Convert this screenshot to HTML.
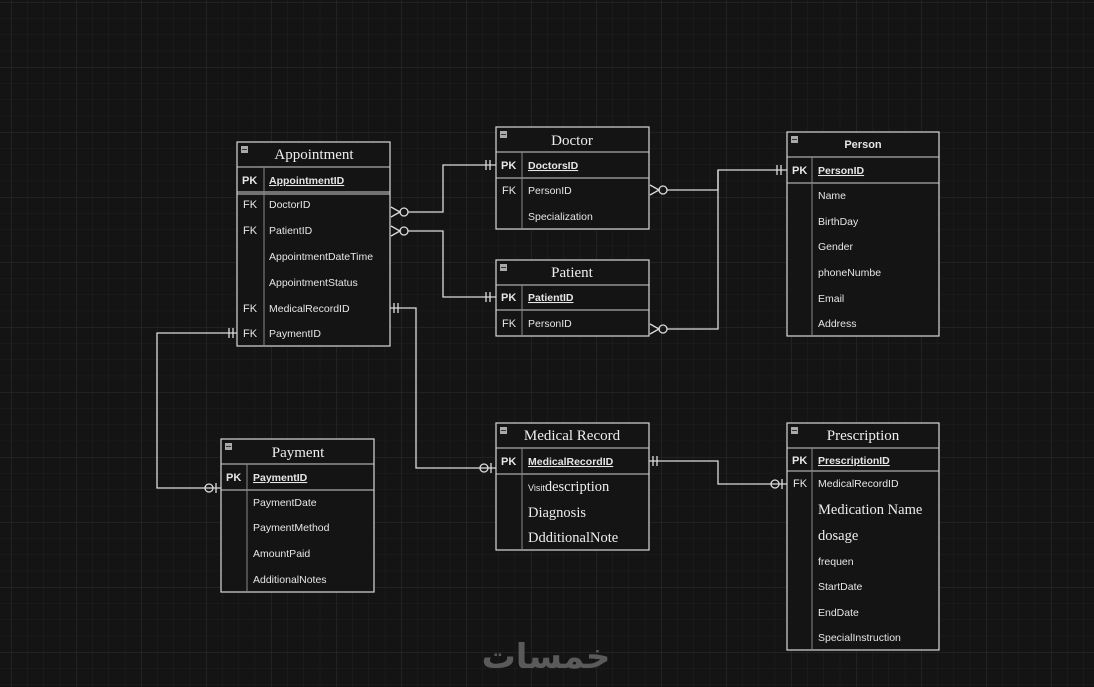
<!DOCTYPE html>
<html><head><meta charset="utf-8"><style>
html,body{margin:0;padding:0;background:#141414;}
svg{display:block;}
.s{font-family:"Liberation Sans",Arial,sans-serif;font-size:10.5px;fill:#e6e6e6;}
.k{font-family:"Liberation Sans",Arial,sans-serif;font-size:11px;fill:#e6e6e6;}
.b{font-weight:bold;}
.t{font-family:"Liberation Serif",serif;font-size:15px;fill:#eee;text-anchor:middle;}
.sr{font-family:"Liberation Serif",serif;font-size:15px;fill:#eee;}
.ln{stroke:#dcdcdc;stroke-width:1.3;fill:none;}
.bx{stroke:#d8d8d8;stroke-width:1.2;fill:#141414;}
.dv{stroke:#d0d0d0;stroke-width:1;}
.kd{stroke:#888;stroke-width:1;}
</style></head><body>
<svg width="1094" height="687" viewBox="0 0 1094 687" xmlns="http://www.w3.org/2000/svg">
<defs>
<pattern id="mi" width="16.25" height="16.25" patternUnits="userSpaceOnUse" x="11" y="2">
<path d="M0 0H16.25M0 0V16.25" stroke="#1f1f1f" stroke-width="1"/>
</pattern>
<pattern id="ma" width="65" height="65" patternUnits="userSpaceOnUse" x="11" y="2">
<path d="M0 0H65M0 0V65" stroke="#2e2e2e" stroke-width="1"/>
</pattern>
</defs>
<rect width="1094" height="687" fill="#141414"/>
<rect width="1094" height="687" fill="url(#mi)"/>
<rect width="1094" height="687" fill="url(#ma)"/>

<!-- connectors -->
<g class="ln">
<path d="M408 212H443V165H496"/>
<path d="M408 231H443V297H496"/>
<path d="M667 190H718V170H787"/>
<path d="M667 329H718V170"/>
<path d="M390 308H416V468H496"/>
<path d="M237 333H157V488H221"/>
<path d="M649 461H718V484H787"/>
</g>
<!-- crow's feet with circle -->
<g class="ln">
<path d="M391 207L400 212L391 217"/><circle cx="404" cy="212" r="4"/>
<path d="M391 226L400 231L391 236"/><circle cx="404" cy="231" r="4"/>
<path d="M650 185L659 190L650 195"/><circle cx="663" cy="190" r="4"/>
<path d="M650 324L659 329L650 334"/><circle cx="663" cy="329" r="4"/>
<!-- one bars -->
<path d="M486 160V170M490 160V170"/>
<path d="M486 292V302M490 292V302"/>
<path d="M777 165V175M781 165V175"/>
<path d="M394 303V313M398 303V313"/>
<path d="M229 328V338M233 328V338"/>
<path d="M653 456V466M657 456V466"/>
<!-- zero-or-one -->
<circle cx="484" cy="468" r="4"/><path d="M491 463V473"/>
<circle cx="209" cy="488" r="4"/><path d="M216 483V493"/>
<circle cx="775" cy="484" r="4"/><path d="M782 479V489"/>
</g>

<!-- Appointment -->
<rect class="bx" x="237" y="142" width="153" height="204"/>
<rect x="241" y="146" width="7" height="7" fill="#aaa"/><rect x="242" y="149" width="5" height="1" fill="#333"/>
<text class="t" x="314" y="159">Appointment</text>
<line class="dv" x1="237" y1="167" x2="390" y2="167"/>
<line class="dv" x1="237" y1="192" x2="390" y2="192"/><line class="dv" x1="237" y1="194" x2="390" y2="194"/>
<line class="kd" x1="264" y1="167" x2="264" y2="346"/>
<text class="k b" x="242" y="184">PK</text><text class="s b" x="269" y="184" text-decoration="underline">AppointmentID</text>
<text class="k" x="243" y="208">FK</text><text class="s" x="269" y="208">DoctorID</text>
<text class="k" x="243" y="234">FK</text><text class="s" x="269" y="234">PatientID</text>
<text class="s" x="269" y="260">AppointmentDateTime</text>
<text class="s" x="269" y="286">AppointmentStatus</text>
<text class="k" x="243" y="312">FK</text><text class="s" x="269" y="312">MedicalRecordID</text>
<text class="k" x="243" y="337">FK</text><text class="s" x="269" y="337">PaymentID</text>

<!-- Doctor -->
<rect class="bx" x="496" y="127" width="153" height="102"/>
<rect x="500" y="131" width="7" height="7" fill="#aaa"/><rect x="501" y="134" width="5" height="1" fill="#333"/>
<text class="t" x="572" y="145">Doctor</text>
<line class="dv" x1="496" y1="152" x2="649" y2="152"/>
<line class="dv" x1="496" y1="178" x2="649" y2="178"/>
<line class="kd" x1="522" y1="152" x2="522" y2="229"/>
<text class="k b" x="501" y="169">PK</text><text class="s b" x="528" y="169" text-decoration="underline">DoctorsID</text>
<text class="k" x="502" y="194">FK</text><text class="s" x="528" y="194">PersonID</text>
<text class="s" x="528" y="220">Specialization</text>

<!-- Patient -->
<rect class="bx" x="496" y="260" width="153" height="76"/>
<rect x="500" y="264" width="7" height="7" fill="#aaa"/><rect x="501" y="267" width="5" height="1" fill="#333"/>
<text class="t" x="572" y="277">Patient</text>
<line class="dv" x1="496" y1="285" x2="649" y2="285"/>
<line class="dv" x1="496" y1="310" x2="649" y2="310"/>
<line class="kd" x1="522" y1="285" x2="522" y2="336"/>
<text class="k b" x="501" y="301">PK</text><text class="s b" x="528" y="301" text-decoration="underline">PatientID</text>
<text class="k" x="502" y="327">FK</text><text class="s" x="528" y="327">PersonID</text>

<!-- Person -->
<rect class="bx" x="787" y="132" width="152" height="204"/>
<rect x="791" y="136" width="7" height="7" fill="#aaa"/><rect x="792" y="139" width="5" height="1" fill="#333"/>
<text class="k b" x="863" y="148" text-anchor="middle">Person</text>
<line class="dv" x1="787" y1="157" x2="939" y2="157"/>
<line class="dv" x1="787" y1="183" x2="939" y2="183"/>
<line class="kd" x1="812" y1="157" x2="812" y2="336"/>
<text class="k b" x="792" y="174">PK</text><text class="s b" x="818" y="174" text-decoration="underline">PersonID</text>
<text class="s" x="818" y="199">Name</text>
<text class="s" x="818" y="225">BirthDay</text>
<text class="s" x="818" y="250">Gender</text>
<text class="s" x="818" y="276">phoneNumbe</text>
<text class="s" x="818" y="302">Email</text>
<text class="s" x="818" y="327">Address</text>

<!-- Payment -->
<rect class="bx" x="221" y="439" width="153" height="153"/>
<rect x="225" y="443" width="7" height="7" fill="#aaa"/><rect x="226" y="446" width="5" height="1" fill="#333"/>
<text class="t" x="298" y="457">Payment</text>
<line class="dv" x1="221" y1="464" x2="374" y2="464"/>
<line class="dv" x1="221" y1="490" x2="374" y2="490"/>
<line class="kd" x1="247" y1="464" x2="247" y2="592"/>
<text class="k b" x="226" y="481">PK</text><text class="s b" x="253" y="481" text-decoration="underline">PaymentID</text>
<text class="s" x="253" y="506">PaymentDate</text>
<text class="s" x="253" y="531">PaymentMethod</text>
<text class="s" x="253" y="557">AmountPaid</text>
<text class="s" x="253" y="583">AdditionalNotes</text>

<!-- Medical Record -->
<rect class="bx" x="496" y="423" width="153" height="127"/>
<rect x="500" y="427" width="7" height="7" fill="#aaa"/><rect x="501" y="430" width="5" height="1" fill="#333"/>
<text class="t" x="572" y="440">Medical Record</text>
<line class="dv" x1="496" y1="448" x2="649" y2="448"/>
<line class="dv" x1="496" y1="474" x2="649" y2="474"/>
<line class="kd" x1="522" y1="448" x2="522" y2="550"/>
<text class="k b" x="501" y="465">PK</text><text class="s b" x="528" y="465" text-decoration="underline">MedicalRecordID</text>
<text x="528" y="491"><tspan class="s" style="font-size:9px">Visit</tspan><tspan class="sr" style="font-size:14.5px">description</tspan></text>
<text class="sr" x="528" y="517" style="font-size:14.5px">Diagnosis</text>
<text class="sr" x="528" y="542" style="font-size:14.5px">DdditionalNote</text>

<!-- Prescription -->
<rect class="bx" x="787" y="423" width="152" height="227"/>
<rect x="791" y="427" width="7" height="7" fill="#aaa"/><rect x="792" y="430" width="5" height="1" fill="#333"/>
<text class="t" x="863" y="440">Prescription</text>
<line class="dv" x1="787" y1="448" x2="939" y2="448"/>
<line class="dv" x1="787" y1="471" x2="939" y2="471"/>
<line class="kd" x1="812" y1="448" x2="812" y2="650"/>
<text class="k b" x="792" y="464">PK</text><text class="s b" x="818" y="464" text-decoration="underline">PrescriptionID</text>
<text class="k" x="793" y="487">FK</text><text class="s" x="818" y="487">MedicalRecordID</text>
<text class="sr" x="818" y="514" style="font-size:14.5px">Medication Name</text>
<text class="sr" x="818" y="540" style="font-size:14.5px">dosage</text>
<text class="s" x="818" y="565">frequen</text>
<text class="s" x="818" y="590">StartDate</text>
<text class="s" x="818" y="616">EndDate</text>
<text class="s" x="818" y="641">SpecialInstruction</text>

<!-- watermark -->
<text x="546" y="668" text-anchor="middle" style="font-family:'DejaVu Sans',sans-serif;font-size:34px;font-weight:bold;fill:#5a5a5a;" direction="rtl">خمسات</text>
</svg>
</body></html>
